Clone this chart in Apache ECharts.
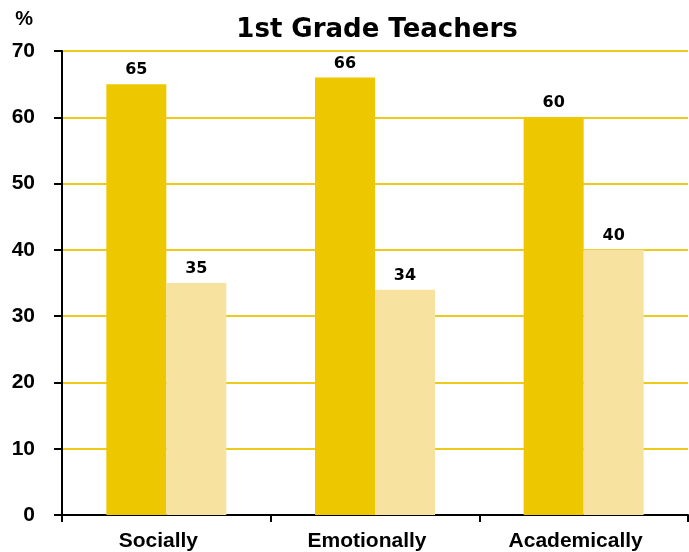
<!DOCTYPE html>
<html>
<head>
<meta charset="utf-8">
<script src="https://cdn.jsdelivr.net/npm/echarts@6/dist/echarts.min.js"></script>
<style>
html,body{margin:0;padding:0;background:#fff;}
#chart{width:689px;height:552px;}
</style>
</head>
<body>
<div id="chart"></div>
<script>
var categories = ['Socially', 'Emotionally', 'Academically'];
var seriesA = [65, 66, 60];
var seriesB = [35, 34, 40];
var yTicks = [0, 10, 20, 30, 40, 50, 60, 70];

var labelStyle = {
	show: true,
	position: 'top',
	color: '#000',
	fontFamily: 'DejaVu Sans',
	fontWeight: 'bold',
	fontSize: 16,
	distance: 6
};

var eChart = echarts.init(document.getElementById('chart'));
var option = {
	animation: false,
	title: {
		text: '1st Grade Teachers',
		left: 372,
		textAlign: 'center',
		top: 12,
		textStyle: {
			fontFamily: 'DejaVu Sans',
			fontWeight: 'bold',
			fontSize: 26,
			color: '#000'
		}
	},
	grid: {
		left: 62,
		right: 1,
		top: 51,
		bottom: 37,
		containLabel: false
	},
	xAxis: {
		type: 'category',
		data: categories,
		axisLine: {lineStyle: {color: '#000', width: 2}},
		axisTick: {show: true, length: 7, lineStyle: {color: '#000', width: 2}},
		axisLabel: {
			color: '#000',
			fontFamily: 'Liberation Sans',
			fontWeight: 'bold',
			fontSize: 21,
			margin: 16,
			padding: [0, 16, 0, 0]
		}
	},
	yAxis: {
		type: 'value',
		name: '%',
		nameLocation: 'end',
		nameGap: 22,
		nameTextStyle: {
			color: '#000',
			fontFamily: 'Liberation Sans',
			fontWeight: 'bold',
			fontSize: 20,
			align: 'right',
			padding: [0, 29, 0, 0]
		},
		min: yTicks[0],
		max: yTicks[yTicks.length - 1],
		interval: 10,
		axisLine: {show: true, lineStyle: {color: '#000', width: 2}},
		axisTick: {show: true, length: 8, lineStyle: {color: '#000', width: 2}},
		axisLabel: {
			color: '#000',
			fontFamily: 'Liberation Sans',
			fontWeight: 'bold',
			fontSize: 21,
			margin: 27
		},
		splitLine: {lineStyle: {color: '#EECB1A', width: 2}}
	},
	series: [
		{
			type: 'bar',
			data: seriesA,
			barWidth: 60,
			barGap: '0%',
			itemStyle: {color: '#EDC800'},
			label: labelStyle
		},
		{
			type: 'bar',
			data: seriesB,
			barWidth: 60,
			itemStyle: {color: '#F7E2A0'},
			label: labelStyle
		}
	]
};
eChart.setOption(option);
</script>
</body>
</html>
